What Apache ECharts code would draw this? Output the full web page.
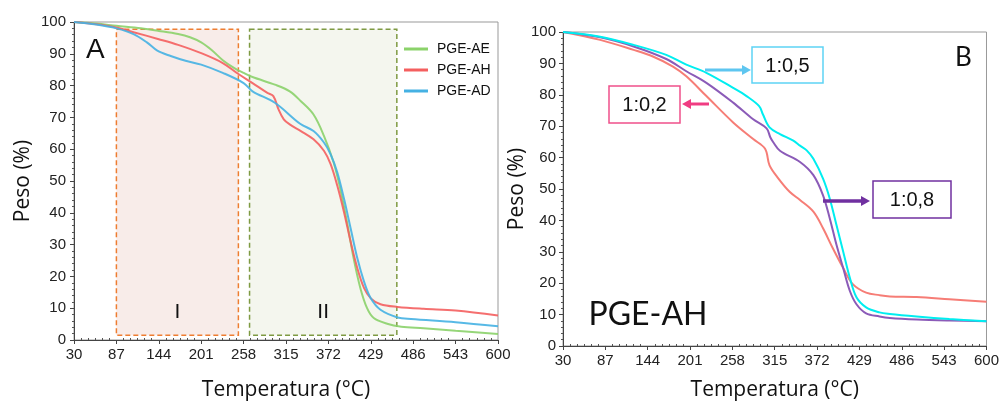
<!DOCTYPE html>
<html>
<head>
<meta charset="utf-8">
<script src="https://cdn.jsdelivr.net/npm/echarts@6/dist/echarts.min.js"></script>
<style>
  html, body { margin: 0; padding: 0; background: #ffffff; }
  #chart { width: 1002px; height: 406px; }
</style>
</head>
<body>
<div id="chart"></div>
<script>
// ---- Panel A: TGA curves of the three gels ----
const aeTemp   = [30, 60, 87, 120, 144, 170, 186, 201, 215, 230, 245, 258, 270, 300, 320, 335, 352, 366, 379, 388, 397, 406, 415, 424, 433, 451, 470, 500, 543, 600];
const aeWeight = [100, 99.5, 98.8, 98.0, 97.2, 96.2, 95.2, 93.6, 91.2, 88.0, 85.6, 84.0, 82.7, 80.3, 78.2, 75.1, 70.9, 64.2, 55.8, 47.5, 37.1, 25.6, 16.3, 10.0, 6.9, 5.1, 4.2, 3.7, 2.9, 1.9];

const ahTemp   = [30, 60, 87, 110, 144, 170, 201, 230, 250, 270, 290, 298, 305, 312, 320, 335, 352, 366, 375, 384, 393, 402, 411, 420, 429, 442, 465, 500, 543, 600];
const ahWeight = [100, 99.3, 98.3, 96.8, 94.6, 92.8, 90.2, 87.1, 83.8, 80.8, 77.7, 76.7, 72.5, 69.4, 67.8, 65.7, 63.1, 59.5, 55.3, 48.5, 40.2, 30.8, 22.5, 16.3, 13.1, 11.25, 10.4, 9.8, 9.3, 7.7];

const adTemp   = [30, 60, 87, 110, 128, 142, 160, 180, 201, 230, 258, 270, 300, 334, 352, 366, 375, 384, 393, 402, 411, 420, 429, 442, 465, 483, 543, 600];
const adWeight = [100, 99.2, 98.0, 96.2, 93.6, 91.0, 89.3, 87.8, 86.6, 84.0, 80.8, 78.2, 74.6, 68.0, 65.7, 62.1, 58.4, 52.7, 44.4, 35.0, 25.6, 18.3, 13.1, 9.5, 7.1, 6.6, 5.6, 4.3];

// degradation stages (temperature span and weight span of each box)
const stageNames   = ['I', 'II'];
const stageTemps   = [[87, 251], [266, 464]];
const stageWeights = [1.5, 97.7];

// ---- Panel B: PGE-AH at three ratios ----
const r05Temp   = [30, 80, 125, 169, 196, 223, 259, 277, 294, 299, 308, 322, 340, 349, 358, 367, 380, 389, 398, 407, 416, 425, 438, 456, 470, 506, 550, 600];
const r05Weight = [100, 98.5, 95.9, 92.7, 89.6, 87.0, 82.2, 79.6, 76.4, 73.8, 69.6, 67.5, 65.4, 63.8, 62.3, 59.6, 53.3, 47.0, 38.6, 30.2, 21.8, 15.5, 12.3, 10.7, 10.2, 9.4, 8.6, 7.9];

const r08Temp   = [30, 80, 125, 169, 196, 223, 259, 286, 304, 309, 313, 322, 349, 367, 380, 389, 398, 407, 416, 425, 438, 456, 470, 506, 550, 600];
const r08Weight = [100, 98.3, 95.4, 91.4, 87.5, 83.8, 77.5, 72.2, 69.3, 66.5, 64.9, 62.2, 58.6, 54.4, 48.0, 40.7, 32.3, 24.9, 17.6, 13.3, 10.4, 9.4, 8.9, 8.4, 8.1, 7.9];

const r02Temp   = [30, 80, 125, 151, 178, 196, 223, 259, 286, 302, 308, 320, 335, 349, 367, 380, 393, 407, 420, 438, 456, 470, 506, 550, 600];
const r02Weight = [100, 97.5, 94.3, 92.2, 89.0, 85.9, 79.6, 71.2, 65.9, 62.8, 57.5, 53.3, 49.1, 46.5, 42.8, 37.5, 31.2, 24.9, 19.7, 17.0, 16.2, 15.8, 15.6, 14.9, 14.1];

// ---- axis ticks ----
const tempTicks = [30, 87, 144, 201, 258, 315, 372, 429, 486, 543, 600];
const tempMinorStep = 9.5;

const minorTemps = [];
for (let i = 0; i < tempTicks.length - 1; i++) {
  for (let k = 1; k < 6; k++) minorTemps.push(tempTicks[i] + k * tempMinorStep);
}

const pairs = (xs, ys) => xs.map((x, i) => [x, ys[i]]);

const labelFont = 'Liberation Sans';
const titleFont = 'Open Sans';

function tempAxis(gridIndex, gap) {
  return {
    type: 'value', gridIndex: gridIndex, min: 30, max: 600,
    name: 'Temperatura (°C)', nameLocation: 'middle', nameGap: gap,
    nameTextStyle: { fontFamily: titleFont, fontSize: 21, color: '#111' },
    axisLine: { show: true, onZero: false, lineStyle: { color: '#444', width: 1 } },
    axisTick: { show: true, length: 4, customValues: tempTicks, lineStyle: { color: '#444' } },
    axisLabel: { show: true, customValues: tempTicks, margin: 7, fontFamily: labelFont, fontSize: 15, color: '#222' },
    splitLine: { show: false }
  };
}
function minorAxis(gridIndex) {
  return {
    type: 'value', gridIndex: gridIndex, min: 30, max: 600,
    axisLine: { show: false },
    axisTick: { show: true, length: 2, customValues: minorTemps, lineStyle: { color: '#555' } },
    axisLabel: { show: false },
    splitLine: { show: false }
  };
}
function weightAxis(gridIndex, gap, margin) {
  return {
    type: 'value', gridIndex: gridIndex, min: 0, max: 100, interval: 10,
    name: 'Peso (%)', nameLocation: 'middle', nameGap: gap,
    nameTextStyle: { fontFamily: titleFont, fontSize: 21, color: '#111' },
    axisLine: { show: true, onZero: false, lineStyle: { color: '#444', width: 1 } },
    axisTick: { show: true, length: 4, lineStyle: { color: '#444' } },
    minorTick: { show: true, splitNumber: 5, length: 2, lineStyle: { color: '#555' } },
    axisLabel: { margin: margin, fontFamily: labelFont, fontSize: 15, color: '#222' },
    splitLine: { show: false }
  };
}

function curve(name, xs, ys, color, xi, yi, opacity) {
  return {
    name: name, type: 'line', xAxisIndex: xi, yAxisIndex: yi,
    data: pairs(xs, ys), smooth: 0.35,
    showSymbol: false, symbol: 'none', z: 5,
    lineStyle: { color: color, width: 2, opacity: opacity },
    itemStyle: { color: color }
  };
}

const stageStyles = [
  { fill: '#F8ECE9', border: '#EE7D31' },
  { fill: '#F4F6EE', border: '#7E9A42' }
];

const stageSeries = {
  type: 'line', xAxisIndex: 0, yAxisIndex: 0, data: [], z: 1, silent: true,
  markArea: {
    silent: true,
    data: stageNames.map((n, i) => [
      {
        name: n, coord: [stageTemps[i][0], stageWeights[1]],
        itemStyle: { color: stageStyles[i].fill, borderColor: stageStyles[i].border, borderWidth: 1.5, borderType: [5, 3] },
        label: { show: true, position: 'insideBottom', distance: 13, fontFamily: labelFont, fontSize: 21, color: '#111' }
      },
      { coord: [stageTemps[i][1], stageWeights[0]] }
    ])
  }
};

// annotation boxes of panel B
function tagBox(text, x, y, w, h, color) {
  return [
    { type: 'rect', shape: { x: x, y: y, width: w, height: h }, style: { fill: '#fff', stroke: color, lineWidth: 1.5 }, z: 20 },
    { type: 'text', x: x + w / 2, y: y + h / 2 + 1, style: { text: text, textAlign: 'center', textVerticalAlign: 'middle', font: '20px "Liberation Sans"', fill: '#111' }, z: 21 }
  ];
}
function arrow(x1, x2, y, color, width) {
  const dir = x2 > x1 ? 1 : -1;
  const head = 9;
  return [
    { type: 'line', shape: { x1: x1, y1: y, x2: x2 - dir * head, y2: y }, style: { stroke: color, lineWidth: width }, z: 20 },
    { type: 'polygon', shape: { points: [[x2 - dir * head, y - 5], [x2, y], [x2 - dir * head, y + 5]] }, style: { fill: color }, z: 20 }
  ];
}

const chart = echarts.init(document.getElementById('chart'), null, { renderer: 'canvas' });

chart.setOption({
  backgroundColor: '#ffffff',
  animation: false,
  grid: [
    { left: 74, top: 22, width: 424, height: 320, show: true, borderColor: '#999', borderWidth: 1, backgroundColor: 'transparent' },
    { left: 563, top: 32, width: 424, height: 317, show: true, borderColor: '#999', borderWidth: 1, backgroundColor: 'transparent' }
  ],
  xAxis: [tempAxis(0, 40), minorAxis(0), tempAxis(1, 34), minorAxis(1)],
  yAxis: [weightAxis(0, 40, 8), weightAxis(1, 32, 7)],
  legend: {
    data: ['PGE-AE', 'PGE-AH', 'PGE-AD'],
    orient: 'vertical', left: 399, top: 36,
    icon: 'rect', itemWidth: 24, itemHeight: 3, itemGap: 5,
    textStyle: { fontFamily: labelFont, fontSize: 14, color: '#111', lineHeight: 16, padding: [0, 0, 0, 4] }
  },
  series: [
    stageSeries,
    curve('PGE-AE', aeTemp, aeWeight, '#8BD26A', 0, 0, 0.9),
    curve('PGE-AH', ahTemp, ahWeight, '#F45F5F', 0, 0, 0.9),
    curve('PGE-AD', adTemp, adWeight, '#45B1E3', 0, 0, 0.9),
    curve('1:0,2', r02Temp, r02Weight, '#F67D76', 2, 1, 1),
    curve('1:0,8', r08Temp, r08Weight, '#8B5BB8', 2, 1, 1),
    curve('1:0,5', r05Temp, r05Weight, '#00EEF0', 2, 1, 1)
  ],
  graphic: [
    { type: 'text', left: 86, top: 36, style: { text: 'A', font: '28px "Liberation Sans"', fill: '#111' }, z: 20 },
    { type: 'text', left: 955, top: 45, style: { text: 'B', font: '26px Lato', fill: '#111' }, z: 20 },
    { type: 'text', x: 648, y: 315, style: { text: 'PGE-AH', textAlign: 'center', textVerticalAlign: 'middle', font: '32px Lato', fill: '#111' }, z: 20 },
    ...tagBox('1:0,5', 752, 47, 71, 36, '#5DD3F5'),
    ...arrow(705, 751, 70, '#5EC6F0', 3),
    ...tagBox('1:0,2', 609, 86, 71, 37, '#F0508A'),
    ...arrow(709, 682, 104, '#F03C82', 3),
    ...tagBox('1:0,8', 873, 181, 78, 37, '#7030A0'),
    ...arrow(823, 870, 201, '#7030A0', 3.5)
  ]
});
</script>
</body>
</html>
